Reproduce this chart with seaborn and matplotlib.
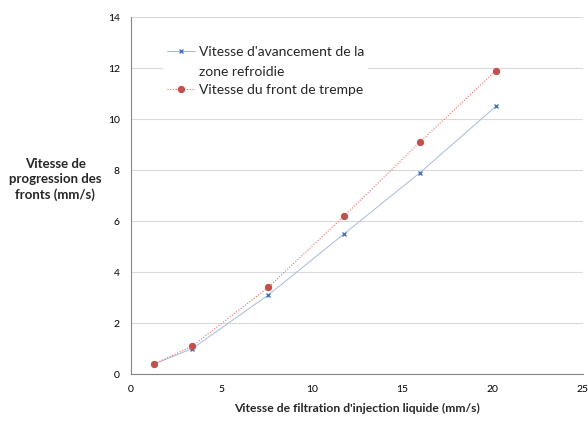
import matplotlib
matplotlib.use("Agg")
import matplotlib.pyplot as plt
import seaborn as sns
import pandas as pd

# Measured front velocities versus injection filtration velocity
vitesse_filtration = [1.3, 3.4, 7.6, 11.8, 16.0, 20.2]
zone_refroidie = [0.4, 1.0, 3.1, 5.5, 7.9, 10.5]
front_trempe = [0.4, 1.1, 3.4, 6.2, 9.1, 11.9]

label_zone = "Vitesse d'avancement de la\nzone refroidie"
label_front = "Vitesse du front de trempe"

df = pd.DataFrame({
    "x": vitesse_filtration * 2,
    "y": zone_refroidie + front_trempe,
    "serie": [label_zone] * len(zone_refroidie) + [label_front] * len(front_trempe),
})

sns.set_theme(style="white")
plt.rcParams["font.family"] = ["Lato", "DejaVu Sans"]

fig = plt.figure(figsize=(5.88, 4.22), dpi=100)
ax = fig.add_axes([0.2228, 0.1137, 0.7682, 0.846])

blue = "#4472C4"
red = "#C0504D"

sns.lineplot(data=df[df.serie == label_zone], x="x", y="y", ax=ax,
             color="#A9B9DC", linewidth=0.7, linestyle="-",
             marker="x", markersize=3.5, markeredgecolor=blue, markeredgewidth=1.0,
             label=label_zone)
sns.lineplot(data=df[df.serie == label_front], x="x", y="y", ax=ax,
             color="#E07070", linewidth=0.8, linestyle=(0, (1, 1.5)),
             marker="o", markersize=4.5, markerfacecolor=red, markeredgecolor=red,
             label=label_front)

ax.set_xlim(0, 25)
ax.set_ylim(0, 14)
ax.set_xticks([0, 5, 10, 15, 20, 25])
ax.set_yticks(range(0, 15, 2))
ax.tick_params(axis="both", length=0, labelsize=7.5, colors="black", pad=8)
ax.yaxis.grid(True, color="#D9D9D9", linewidth=0.8)
ax.xaxis.grid(False)
ax.set_axisbelow(True)

for side in ["top", "right"]:
    ax.spines[side].set_visible(False)
for side in ["left", "bottom"]:
    ax.spines[side].set_color("#868686")
    ax.spines[side].set_linewidth(0.8)

ax.set_xlabel("Vitesse de filtration d'injection liquide (mm/s)",
              fontsize=8.7, fontweight="bold", labelpad=6)
ax.set_ylabel("")
fig.text(0.094, 0.575, "Vitesse de\nprogression des\nfronts (mm/s)",
         ha="center", va="center", fontsize=9.5, fontweight="bold",
         linespacing=1.3)

leg = ax.legend(loc="upper left", bbox_to_anchor=(0.055, 0.95), fontsize=10,
                frameon=True, facecolor="white", edgecolor="white", framealpha=1,
                handlelength=2.0, handletextpad=0.3, borderpad=0.3,
                labelspacing=0.45)
leg.get_frame().set_linewidth(0)
for t in leg.get_texts():
    t.set_linespacing(1.8)

# keep each legend symbol level with the first line of its label
for column in leg._legend_handle_box.get_children():
    for entry in column.get_children():
        entry.align = "top"

fig.savefig("out.png", dpi=100, facecolor="white")
